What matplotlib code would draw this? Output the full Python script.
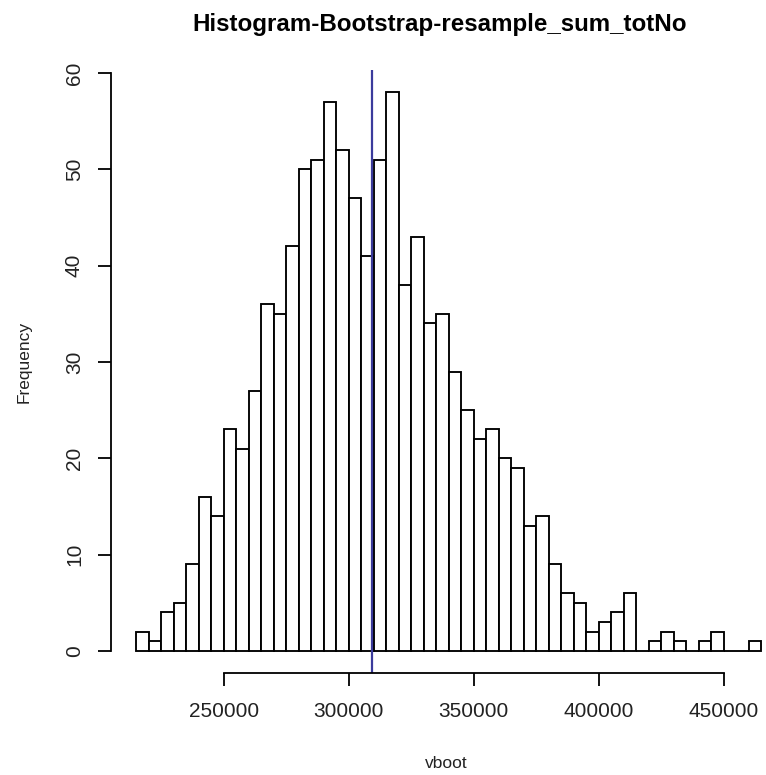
import numpy as np
import matplotlib.pyplot as plt

# histogram of bootstrap resamples
counts = [2, 1, 4, 5, 9, 16, 14, 23, 21, 27,
          36, 35, 42, 50, 51, 57, 52, 47, 41, 51,
          58, 38, 43, 34, 35, 29, 25, 22, 23, 20,
          19, 13, 14, 9, 6, 5, 2, 3, 4, 6,
          0, 1, 2, 1, 0, 1, 2, 0, 0, 1]
bin_lo = 215000
bin_width = 5000
mean_line = 309300
x_ticks = [250000, 300000, 350000, 400000, 450000]
y_ticks = [0, 10, 20, 30, 40, 50, 60]

plt.rcParams["font.family"] = ["Liberation Sans", "DejaVu Sans"]

edges = bin_lo + bin_width * np.arange(len(counts))

fig = plt.figure(figsize=(7.66, 7.75), dpi=100)
ax = fig.add_axes([111 / 766, 1 - 673.3 / 775, 675.5 / 766, 603.3 / 775])

ax.bar(edges, counts, width=bin_width, align="edge",
       facecolor="white", edgecolor="black", linewidth=1.35)
ax.axvline(mean_line, color="#3b3b9c", linewidth=1.6)

# R style limits: 4% padding round the data range
xr = (bin_lo, bin_lo + bin_width * len(counts))
pad_x = 0.04 * (xr[1] - xr[0])
ax.set_xlim(xr[0] - pad_x, xr[1] + pad_x)
ymax = max(counts)
ax.set_ylim(-0.04 * ymax, ymax * 1.04)

for side in ["top", "right"]:
    ax.spines[side].set_visible(False)
ax.spines["left"].set_bounds(y_ticks[0], y_ticks[-1])
ax.spines["bottom"].set_bounds(x_ticks[0], x_ticks[-1])
for side in ["left", "bottom"]:
    ax.spines[side].set_linewidth(1.3)

ax.set_xticks(x_ticks)
ax.set_yticks(y_ticks)
ax.set_xticklabels([str(v) for v in x_ticks])
ax.set_yticklabels([str(v) for v in y_ticks], rotation=90, va="center")
ax.tick_params(axis="both", length=9.5, width=1.3, labelsize=15,
               labelcolor="#222222")
ax.tick_params(axis="x", pad=11)
ax.tick_params(axis="y", pad=10)

fig.text(446.7 / 766, 1 - 763 / 775, "vboot", ha="center", va="center",
         fontsize=12.5, color="#222222")
fig.text(24 / 766, 1 - 362 / 775, "Frequency", ha="center", va="center",
         rotation=90, fontsize=12.5, color="#222222")
fig.text(440 / 766, 1 - 31.5 / 775, "Histogram-Bootstrap-resample_sum_totNo",
         ha="center", va="baseline", fontsize=17.4, fontweight="bold")

fig.savefig("out.png", dpi=100)
